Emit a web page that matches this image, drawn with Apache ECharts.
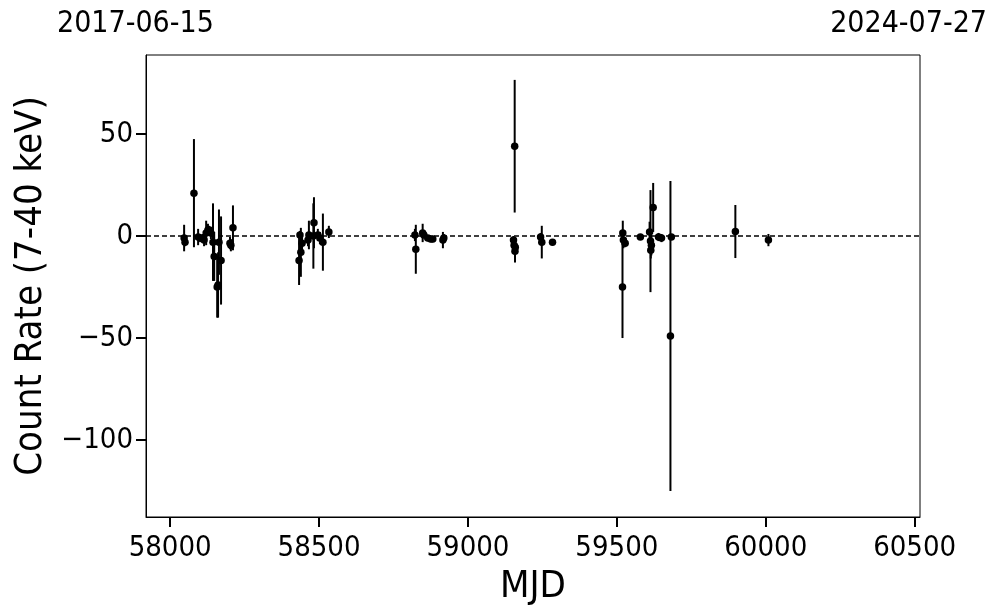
<!DOCTYPE html>
<html>
<head>
<meta charset="utf-8">
<script src="https://cdn.jsdelivr.net/npm/echarts@6/dist/echarts.min.js"></script>
<style>
html,body{margin:0;padding:0;background:#fff;}
#c{width:997px;height:613px;}
</style>
</head>
<body>
<div id="c"></div>
<script>
// ---- data ----
const mjd = [
  58047, 58050, 58080, 58094, 58101, 58110, 58114, 58121, 58127, 58131, 58137,
  58144, 58148, 58158, 58161, 58164, 58171, 58201, 58204, 58211,
  58433, 58436, 58439, 58443, 58463, 58466, 58481, 58483, 58496, 58503, 58513, 58533,
  58822, 58825, 58848, 58852, 58865, 58875, 58882, 58916, 58919,
  59153, 59155, 59157, 59158, 59159, 59244, 59248, 59284,
  59519, 59520, 59522, 59528, 59579, 59610, 59613, 59614, 59616, 59622,
  59640, 59650, 59680, 59683,
  59898, 60009
];
const rate = [
  -1, -3, 21, -0.5, -1, -1, -2, 1.5, 3, 3, 1.5,
  -3, -10, -25, -24, -3, -12, -3.5, -4.5, 4,
  -12, 0.5, -8, -3.5, -2, 0.5, 0, 6.5, 0.5, -1, -3, 2,
  0.5, -6.5, 1.5, 0.5, -1, -1.5, -1.5, -2, -1,
  -2, -4.5, 44, -7.5, -5.5, -0.5, -3, -3,
  -25, 1.5, -2, -3.5, -0.5, 2, -2.5, -7, -4.5, 14,
  -0.5, -1, -49, -0.5,
  2.2, -2
];
const rateErr = [
  6.5, 2, 26.5, 4, 2, 2, 3, 6, 3, 2, 3,
  19, 12, 15, 16, 16, 21.6, 3, 3, 11,
  12, 2, 12, 5, 3, 7, 16, 12.5, 3, 3, 14, 3,
  3, 12, 4.5, 1.5, 1.5, 1.5, 1.5, 4, 2,
  2, 3, 32.5, 5.5, 2, 2, 8, 1.5,
  25, 6, 4, 2, 1, 5, 25, 4, 5, 12,
  2, 2, 76, 1,
  13, 3
];
const xTicks = [58000, 58500, 59000, 59500, 60000, 60500];
const yTicks = [-100, -50, 0, 50];
const dateLabels = ['2017-06-15', '2024-07-27'];
const xRange = [57919, 60518];
const yRange = [-137.7, 88.7];

const pts = mjd.map((m, i) => [m, rate[i], rateErr[i]]);
const fmtY = v => String(v).replace('-', '\u2212');
const fmtX = v => String(v);
const FONT = '"DejaVu Sans Condensed", "DejaVu Sans", sans-serif';

const chart = echarts.init(document.getElementById('c'), null, {renderer: 'canvas'});
chart.setOption({
  animation: false,
  backgroundColor: '#fff',
  textStyle: {fontFamily: FONT},
  grid: {left: 146, right: 77, top: 55, bottom: 96, containLabel: false,
         show: true, borderColor: '#000', borderWidth: 1},
  graphic: [
    {type: 'text', left: 57, top: 9, style: {text: dateLabels[0], font: '30px ' + FONT, fill: '#000'}},
    {type: 'text', right: 10, top: 9, style: {text: dateLabels[1], font: '30px ' + FONT, fill: '#000'}}
  ],
  xAxis: {
    type: 'value', min: xRange[0], max: xRange[1],
    name: 'MJD', nameLocation: 'middle', nameGap: 50,
    nameTextStyle: {fontSize: 38, color: '#000', fontFamily: FONT},
    axisLine: {show: true, onZero: false, lineStyle: {color: '#000', width: 1}},
    axisTick: {show: true, length: 10, customValues: xTicks, lineStyle: {color: '#000', width: 2}},
    axisLabel: {customValues: xTicks, fontSize: 29, color: '#000', margin: 17, fontFamily: FONT, formatter: fmtX},
    splitLine: {show: false}
  },
  yAxis: {
    type: 'value', min: yRange[0], max: yRange[1],
    name: 'Count Rate (7-40 keV)', nameLocation: 'middle', nameGap: 96,
    nameTextStyle: {fontSize: 38, color: '#000', fontFamily: FONT},
    axisLine: {show: true, onZero: false, lineStyle: {color: '#000', width: 1}},
    axisTick: {show: true, length: 10, customValues: yTicks, lineStyle: {color: '#000', width: 2}},
    axisLabel: {customValues: yTicks, fontSize: 29, color: '#000', margin: 13, fontFamily: FONT, formatter: fmtY},
    splitLine: {show: false}
  },
  series: [
    {
      type: 'custom',
      clip: true,
      data: pts,
      encode: {x: 0, y: 1},
      renderItem: function (params, api) {
        const x = api.value(0), v = api.value(1), e = api.value(2);
        const p1 = api.coord([x, v - e]);
        const p2 = api.coord([x, v + e]);
        return {
          type: 'line',
          shape: {x1: p1[0], y1: p1[1], x2: p2[0], y2: p2[1]},
          style: {stroke: '#000', lineWidth: 2}
        };
      },
      z: 3
    },
    {
      type: 'scatter',
      data: pts.map(p => [p[0], p[1]]),
      symbol: 'circle',
      symbolSize: 7.5,
      itemStyle: {color: '#000', opacity: 1},
      z: 4,
      markLine: {
        silent: true,
        symbol: ['none', 'none'],
        label: {show: false},
        lineStyle: {color: '#000', type: [5, 3], width: 1.5, opacity: 1},
        data: [{yAxis: 0}]
      }
    }
  ]
});
</script>
</body>
</html>
